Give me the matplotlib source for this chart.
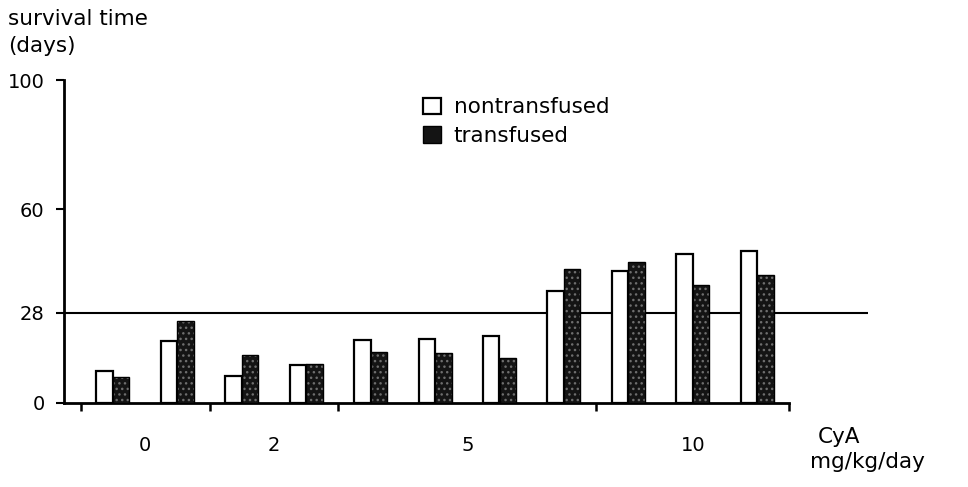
import numpy as np
import matplotlib
matplotlib.use('Agg')
import matplotlib.pyplot as plt
from matplotlib.patches import Patch

plt.rcParams['font.family'] = ['DejaVu Sans']

# dose groups and how many bar pairs each holds
doses = ['0', '2', '5', '10']
pairs_per_dose = [2, 2, 4, 3]

# survival time (days)
nontransfused = [10.0, 19.2, 8.5, 11.9, 19.5, 19.8, 20.7, 34.7, 40.9, 46.0, 47.1]
transfused = [8.0, 25.4, 14.8, 12.2, 15.8, 15.5, 13.8, 41.5, 43.7, 36.6, 39.7]

ref_days = 28
yticks = [0, 28, 60, 100]

x = np.arange(len(nontransfused))
bounds = np.concatenate([[0], np.cumsum(pairs_per_dose)]) - 0.5
centers = (bounds[:-1] + bounds[1:]) / 2

fig = plt.figure(figsize=(9.68, 4.87), dpi=100)
ax = fig.add_axes([64/968, 1 - 403/487, 804/968, 323/487])

w = 0.256
dark = '#141414'
ax.bar(x - w/2, nontransfused, w, facecolor='white', edgecolor='black', lw=1.6, zorder=3)
ax.bar(x + w/2, transfused, w, facecolor=dark, edgecolor='#6e6e6e', hatch='...', lw=0, zorder=3)
ax.bar(x + w/2, transfused, w, facecolor='none', edgecolor='black', lw=1.0, zorder=4)

ax.set_xlim(-0.76, 11.72)
ax.set_ylim(0, 100)
ax.plot([-0.76, 11.72], [ref_days, ref_days], color='black', lw=1.5, zorder=2)

for s in ['top', 'right']:
    ax.spines[s].set_visible(False)
ax.spines['left'].set_linewidth(2)
ax.spines['bottom'].set_linewidth(2)
ax.spines['left'].set_bounds(0, 100)
ax.spines['bottom'].set_bounds(-0.76, bounds[-1])

ax.set_yticks(yticks)
ax.tick_params(axis='y', length=6, width=1.5, pad=8, labelsize=14)
ax.set_xticks(bounds)
ax.set_xticklabels([])
ax.tick_params(axis='x', which='major', length=6, width=1.8, direction='out')
ax.set_xticks(centers, minor=True)
ax.set_xticklabels(doses, minor=True)
ax.tick_params(axis='x', which='minor', length=0, pad=24, labelsize=14)

fig.text(8/968, 1 - 19/487, 'survival time', fontsize=15.5, va='center', ha='left')
fig.text(8/968, 1 - 46/487, '(days)', fontsize=15.5, va='center', ha='left')
fig.text(818/968, 1 - 437/487, 'CyA', fontsize=15.5, va='center', ha='left')
fig.text(810/968, 1 - 462/487, 'mg/kg/day', fontsize=15.5, va='center', ha='left')

handles = [Patch(facecolor='white', edgecolor='black', lw=1.6),
           Patch(facecolor=dark, edgecolor='black', lw=1.0)]
fig.legend(handles, ['nontransfused', 'transfused'], loc='upper left',
           bbox_to_anchor=(404/968, 1 - 78/487), frameon=False, fontsize=15.5,
           handlelength=0.8, handleheight=0.8, handletextpad=0.6, labelspacing=0.4)

fig.savefig('out.png', dpi=100)
